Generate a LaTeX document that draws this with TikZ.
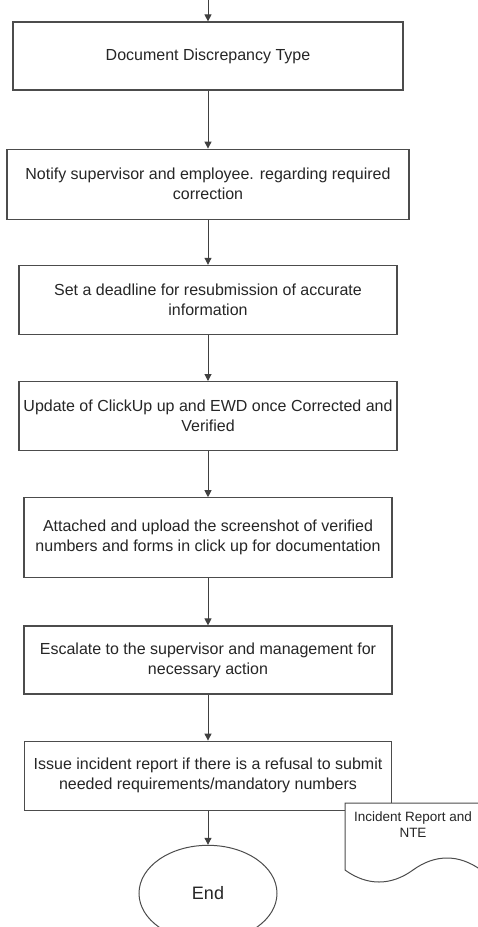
\documentclass[tikz,border=0pt]{standalone}
\usepackage{fontspec}
\setmainfont{Liberation Sans}
\usetikzlibrary{arrows.meta, positioning, shapes.geometric}

\begin{document}
\begin{tikzpicture}[
    x=1pt, y=-1pt,
    font=\fontsize{16}{20}\selectfont,
    pbox/.style={draw=black!70, line width=1.2pt, fill=white, align=center,
                 text=black!85, inner sep=3pt},
    ebox/.style={ellipse, draw=black!70, line width=1pt, fill=white,
                 minimum width=138pt, minimum height=96pt, text=black!85,
                 font=\fontsize{18}{22}\selectfont},
    fl/.style={-{Triangle[length=7pt, width=7pt]}, line width=1pt, black!75},
    dlab/.style={font=\fontsize{13.5}{16}\selectfont, align=center, text=black!85}
  ]
    \useasboundingbox (0,0) rectangle (477,927);
    % ---- process steps ----
    \coordinate (in) at (208,0);
    \node[pbox, minimum width=390pt, minimum height=68pt] (b1) at (208,56)
      {Document Discrepancy Type};
    \node[pbox, minimum width=402pt, minimum height=70pt, anchor=north] (b2) at ([yshift=-58pt]b1.south)
      {Notify supervisor and employee. regarding required\\correction};
    \node[pbox, minimum width=378pt, minimum height=69pt, anchor=north] (b3) at ([yshift=-45pt]b2.south)
      {Set a deadline for resubmission of accurate\\information};
    \node[pbox, minimum width=378pt, minimum height=69pt, anchor=north] (b4) at ([yshift=-46pt]b3.south)
      {Update of ClickUp up and EWD once Corrected and\\Verified};
    \node[pbox, minimum width=368pt, minimum height=80pt, anchor=north] (b5) at ([yshift=-46pt]b4.south)
      {Attached and upload the screenshot of verified\\numbers and forms in click up for documentation};
    \node[pbox, minimum width=368pt, minimum height=68pt, anchor=north] (b6) at ([yshift=-47pt]b5.south)
      {Escalate to the supervisor and management for\\necessary action};
    \node[pbox, minimum width=367pt, minimum height=69pt, anchor=north] (b7) at ([yshift=-46pt]b6.south)
      {Issue incident report if there is a refusal to submit\\needed requirements/mandatory numbers};
    % ---- terminal ----
    \node[ebox, anchor=north] (end) at ([yshift=-34pt]b7.south) {End};
    % ---- output document ----
    \draw[draw=black!70, line width=1pt, fill=white]
      (345,803) -- (345,870) .. controls (367,886) and (391,886) .. (413,870)
      .. controls (435,854) and (459,854) .. (481,870) -- (481,803) -- cycle;
    \node[dlab] (nte) at (413,825) {Incident Report and\\NTE};
    % ---- arrows ----
    \draw[fl] (in) -- (b1.north);
    \draw[fl] (b1.south) -- (b2.north);
    \draw[fl] (b2.south) -- (b3.north);
    \draw[fl] (b3.south) -- (b4.north);
    \draw[fl] (b4.south) -- (b5.north);
    \draw[fl] (b5.south) -- (b6.north);
    \draw[fl] (b6.south) -- (b7.north);
    \draw[fl] (b7.south) -- (end.north);
\end{tikzpicture}
\end{document}
